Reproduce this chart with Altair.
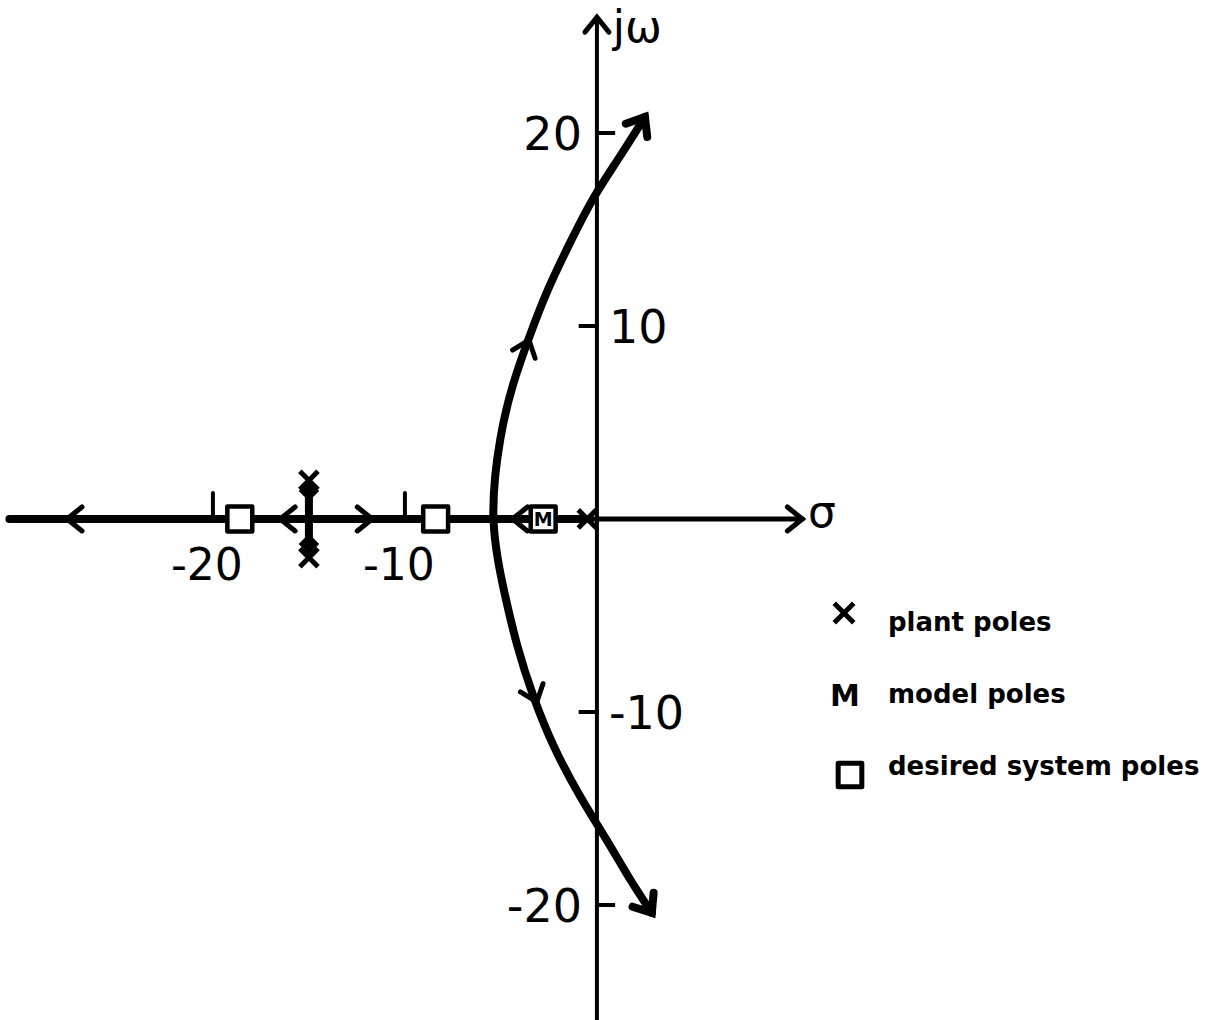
import math
import altair as alt
import pandas as pd

# ---------------------------------------------------------------------------
# s-plane root locus: sigma = real part, omega = imaginary part
# ---------------------------------------------------------------------------
X_DOMAIN = [-31.09, 32.14]
Y_DOMAIN = [-25.96, 26.89]

# upper branch (from the real-axis break point to the arrow tip)
upper_sigma = [-5.6, -5.05, -4.38, -3.59, -2.60, -1.41, -0.21, 1.20, 2.50]
upper_omega = [0.0, 4.46, 7.05, 9.27, 11.87, 14.30, 16.68, 18.76, 20.83]
# lower branch
lower_sigma = [-5.6, -4.90, -4.17, -3.33, -2.29, -0.89, 0.52, 1.72, 2.86]
lower_omega = [0.0, -3.52, -6.63, -9.22, -11.81, -14.40, -16.63, -18.70, -20.41]

# poles
plant_sigma = [-15.0, -15.0, -0.5]
plant_omega = [2.0, -2.0, 0.0]
model_sigma = [-2.8]
desired_sigma = [-18.6, -8.4, -2.8]

# real-axis locus and axis extents
locus_left, locus_right = -30.6, -0.5
sigma_axis_end = 10.7
omega_axis_top, omega_axis_bottom = 26.0, -26.0

# direction arrows on the locus (tip position and heading, degrees clockwise)
arrow_sigma = [-27.6, -16.5, -11.7, -4.4, -3.54, -3.13]
arrow_omega = [0.0, 0.0, 0.0, 0.0, 9.27, -9.48]
arrow_angle = [180, 180, 0, 180, 290, 70]

# axis ticks and labels
x_ticks = [-20, -10]
y_ticks = [20, 10, -10, -20]
y_tick_side = [1, -1, -1, 1]  # +1: tick to the right, label to the left

legend_labels = ["plant poles", "model poles", "desired system poles"]

# ---------------------------------------------------------------------------
xs = alt.Scale(domain=X_DOMAIN, nice=False, zero=False)
ys = alt.Scale(domain=Y_DOMAIN, nice=False, zero=False)
INK = "#000000"
NUM_FONT = "DejaVu Sans"
CHEVRON = "M-1,-0.8L0,0L-1,0.8"
XMARK = "M-1,-1L1,1M-1,1L1,-1"


def X(field="s"):
    return alt.X(f"{field}:Q", scale=xs, axis=None)


def Y(field="w"):
    return alt.Y(f"{field}:Q", scale=ys, axis=None)


# straight segments: real-axis locus, sigma axis, omega axis, branch at -15
segments = pd.DataFrame({
    "s":  [locus_left, locus_right, 0.0, plant_sigma[0]],
    "s2": [locus_right, sigma_axis_end, 0.0, plant_sigma[1]],
    "w":  [0.0, 0.0, omega_axis_bottom, plant_omega[0] - 0.4],
    "w2": [0.0, 0.0, omega_axis_top, plant_omega[1] + 0.4],
    "lw": [8, 5, 4, 8],
})
seg_layer = alt.Chart(segments).mark_rule(color=INK, strokeCap="round").encode(
    x=X(), x2="s2:Q", y=Y(), y2="w2:Q",
    strokeWidth=alt.StrokeWidth("lw:Q", scale=None),
)

# widened parts of the complex-pole branches near the real axis
blob = pd.DataFrame({"s": [plant_sigma[0]] * 2, "w": [1.45, -1.3]})
blob_layer = alt.Chart(blob).mark_point(
    shape="diamond", filled=True, color=INK, size=420, opacity=1
).encode(x=X(), y=Y())

# x ticks
xt = pd.DataFrame({"s": x_ticks, "w": [0.0] * len(x_ticks), "w2": [1.35] * len(x_ticks)})
xt_layer = alt.Chart(xt).mark_rule(color=INK, strokeWidth=4, strokeCap="round").encode(
    x=X(), y=Y(), y2="w2:Q"
)
xl_layer = alt.Chart(pd.DataFrame({"s": x_ticks, "w": [-3.15] * len(x_ticks),
                                   "t": [str(v) for v in x_ticks]})).mark_text(
    font=NUM_FONT, fontSize=44, color=INK, align="center", baseline="alphabetic", dx=-6
).encode(x=X(), y=Y(), text="t:N")

# y ticks
yt = pd.DataFrame({"w": y_ticks, "side": y_tick_side})
yt_layer = alt.Chart(yt).transform_calculate(
    s="0", s2="0.95 * datum.side"
).mark_rule(color=INK, strokeWidth=4).encode(x=X(), x2="s2:Q", y=Y())

yl = pd.DataFrame({"w": y_ticks, "side": y_tick_side, "t": [str(v) for v in y_ticks]})
yl_left = alt.Chart(yl).transform_filter("datum.side > 0").transform_calculate(s="0").mark_text(
    font=NUM_FONT, fontSize=46, color=INK, align="right", baseline="alphabetic", dx=-15, dy=17
).encode(x=X(), y=Y(), text="t:N")
yl_right = alt.Chart(yl).transform_filter("datum.side < 0").transform_calculate(s="0").mark_text(
    font=NUM_FONT, fontSize=46, color=INK, align="left", baseline="alphabetic", dx=12, dy=17
).encode(x=X(), y=Y(), text="t:N")

# the two complex branches as one smooth curve
curve_s = list(reversed(upper_sigma)) + lower_sigma[1:]
curve_w = list(reversed(upper_omega)) + lower_omega[1:]
curve = pd.DataFrame({"s": curve_s, "w": curve_w, "o": list(range(len(curve_s)))})
curve_layer = alt.Chart(curve).mark_line(
    color=INK, strokeWidth=8, interpolate="basis", strokeCap="round"
).encode(x=X(), y=Y(), order="o:Q")


def heading(s0, w0, s1, w1):
    # clockwise screen angle of the direction (s0,w0) -> (s1,w1)
    ang = math.degrees(math.atan2(-(w1 - w0) * 19.3, (s1 - s0) * 19.2))
    return ang % 360


end_arrows = pd.DataFrame({
    "s": [upper_sigma[-1], lower_sigma[-1]],
    "w": [upper_omega[-1], lower_omega[-1]],
    "a": [heading(upper_sigma[-2], upper_omega[-2], upper_sigma[-1], upper_omega[-1]),
          heading(lower_sigma[-2], lower_omega[-2], lower_sigma[-1], lower_omega[-1])],
})
end_arrow_layer = alt.Chart(end_arrows).mark_point(
    shape=CHEVRON, filled=False, color=INK, strokeWidth=8, size=1000, opacity=1,
    strokeCap="round", strokeJoin="miter"
).encode(x=X(), y=Y(), angle=alt.Angle("a:Q", scale=None))

arrows = pd.DataFrame({"s": arrow_sigma + [sigma_axis_end, 0.0],
                       "w": arrow_omega + [0.0, omega_axis_top],
                       "a": arrow_angle + [0, 270]})
arrow_layer = alt.Chart(arrows).mark_point(
    shape=CHEVRON, filled=False, color=INK, strokeWidth=5, size=900, opacity=1,
    strokeCap="round", strokeJoin="miter"
).encode(x=X(), y=Y(), angle=alt.Angle("a:Q", scale=None))

# desired system poles (squares)
squares = pd.DataFrame({"s": desired_sigma, "w": [0.0] * len(desired_sigma)})
square_layer = alt.Chart(squares).mark_point(
    shape="square", filled=False, fill="white", fillOpacity=1, color=INK,
    stroke=INK, strokeWidth=4.5, size=620, opacity=1, strokeJoin="round"
).encode(x=X(), y=Y())

# model pole
model = pd.DataFrame({"s": model_sigma, "w": [0.0] * len(model_sigma)})
model_layer = alt.Chart(model).mark_text(
    text="M", font="DejaVu Sans", fontWeight="bold", fontSize=19, color=INK,
    align="center", baseline="alphabetic", dy=7
).encode(x=X(), y=Y())

# plant poles
plant = pd.DataFrame({"s": plant_sigma, "w": plant_omega})
plant_layer = alt.Chart(plant).mark_point(
    shape=XMARK, filled=False, color=INK, strokeWidth=5, size=330, opacity=1
).encode(x=X(), y=Y())

# axis names
names = pd.DataFrame({"s": [0.83, 11.0], "w": [24.7, -0.41], "t": ["jω", "σ"]})
names_layer = alt.Chart(names).mark_text(
    font=NUM_FONT, fontSize=44, color=INK, align="left", baseline="alphabetic"
).encode(x=X(), y=Y(), text="t:N")

# legend
leg = pd.DataFrame({"label": legend_labels, "row": list(range(len(legend_labels)))})
leg_base = alt.Chart(leg).transform_calculate(ty="631 + 72 * datum.row")
leg_text = leg_base.mark_text(
    font="DejaVu Sans", fontWeight="bold", fontSize=26, color=INK,
    align="left", baseline="alphabetic"
).encode(x=alt.value(888), y=alt.Y("ty:Q", scale=None), text="label:N")
leg_x = leg_base.transform_filter("datum.row == 0").transform_calculate(sy="datum.ty - 18").mark_point(
    shape=XMARK, filled=False, color=INK, strokeWidth=5, size=380, opacity=1
).encode(x=alt.value(844), y=alt.Y("sy:Q", scale=None))
leg_m = leg_base.transform_filter("datum.row == 1").transform_calculate(sy="datum.ty + 3").mark_text(
    text="M", font="DejaVu Sans", fontWeight="bold", fontSize=30, color=INK,
    align="center", baseline="alphabetic"
).encode(x=alt.value(845), y=alt.Y("sy:Q", scale=None))
leg_sq = leg_base.transform_filter("datum.row == 2").transform_calculate(sy="datum.ty").mark_point(
    shape="square", filled=False, color=INK, strokeWidth=5, size=560, opacity=1, strokeJoin="round"
).encode(x=alt.value(850), y=alt.Y("sy:Q", scale=None))

chart = alt.layer(
    seg_layer, blob_layer, xt_layer, yt_layer, curve_layer,
    arrow_layer, end_arrow_layer, square_layer, model_layer, plant_layer,
    xl_layer, yl_left, yl_right, names_layer,
    leg_text, leg_x, leg_m, leg_sq,
).properties(
    width=1214, height=1020,
    autosize=alt.AutoSizeParams(type="none"),
    padding=0,
    background="white",
).configure_view(stroke=None)

chart.save("out.html", embed_options={"renderer": "svg", "actions": False})
